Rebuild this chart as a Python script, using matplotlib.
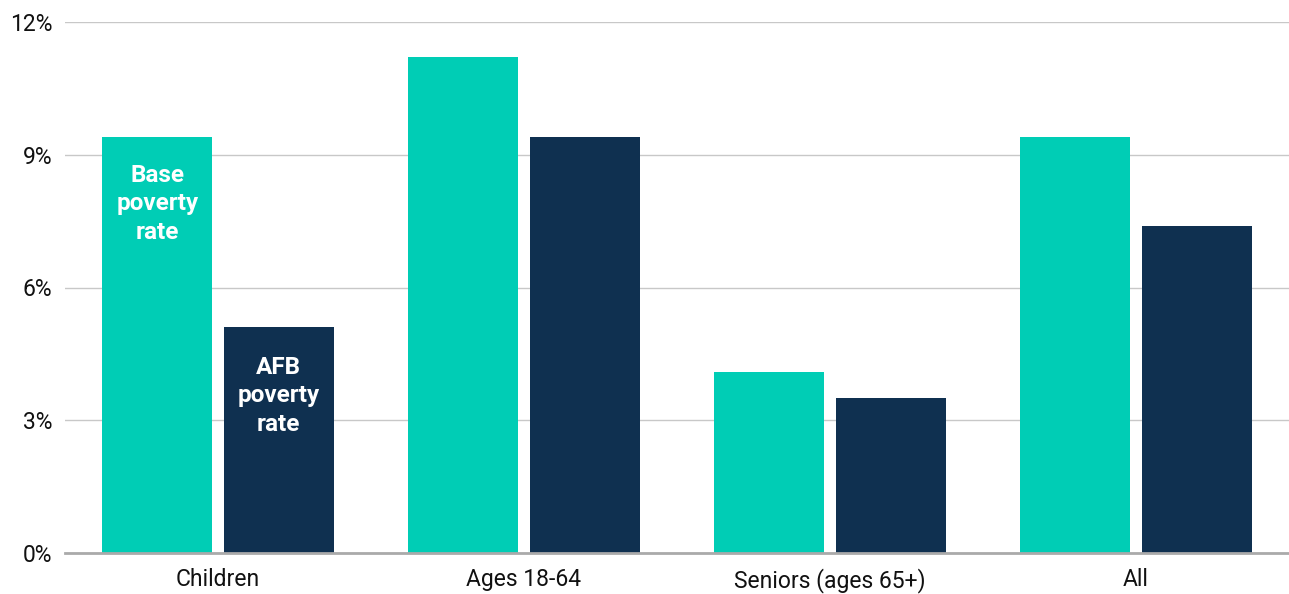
import numpy as np
import matplotlib.pyplot as plt
from matplotlib.ticker import FuncFormatter

categories = ["Children", "Ages 18-64", "Seniors (ages 65+)", "All"]
base_rate = [9.4, 11.2, 4.1, 9.4]
afb_rate = [5.1, 9.4, 3.5, 7.4]
y_ticks = [0, 3, 6, 9, 12]

teal = "#00CDB5"
navy = "#0F3050"

plt.rcParams['font.family'] = ['Roboto', 'DejaVu Sans']

fig = plt.figure(figsize=(12.89, 5.94), dpi=100)
ax = fig.add_axes([65 / 1289, 41 / 594, 1 - 65 / 1289, 531 / 594])

x = np.arange(len(categories))
w = 0.36
ax.bar(x - w / 2 - 0.018, base_rate, w, color=teal, zorder=3)
ax.bar(x + w / 2 + 0.018, afb_rate, w, color=navy, zorder=3)

ax.set_xlim(-0.5, 3.5)
ax.set_ylim(0, 12)
ax.set_yticks(y_ticks)
ax.yaxis.set_major_formatter(FuncFormatter(lambda v, p: f"{v:.0f}%"))
ax.set_xticks(x)
ax.set_xticklabels(categories)
ax.tick_params(axis='both', length=0, labelsize=16.5, colors="#111111")
ax.tick_params(axis='y', pad=9)
ax.tick_params(axis='x', pad=11)

ax.grid(axis='y', color="#c8c8c8", linewidth=1, zorder=0)
for s in ["top", "right", "left"]:
    ax.spines[s].set_visible(False)
ax.spines["bottom"].set_color("#aaaaaa")
ax.spines["bottom"].set_linewidth(2)
ax.spines["bottom"].set_zorder(4)

ax.text(x[0] - w / 2 - 0.018, 7.89, "Base\npoverty\nrate", ha='center', va='center',
        color='white', fontsize=17.5, fontweight='bold', linespacing=1.3)
ax.text(x[0] + w / 2 + 0.018, 3.55, "AFB\npoverty\nrate", ha='center', va='center',
        color='white', fontsize=17.5, fontweight='bold', linespacing=1.3)

fig.savefig("out.png", dpi=100)
